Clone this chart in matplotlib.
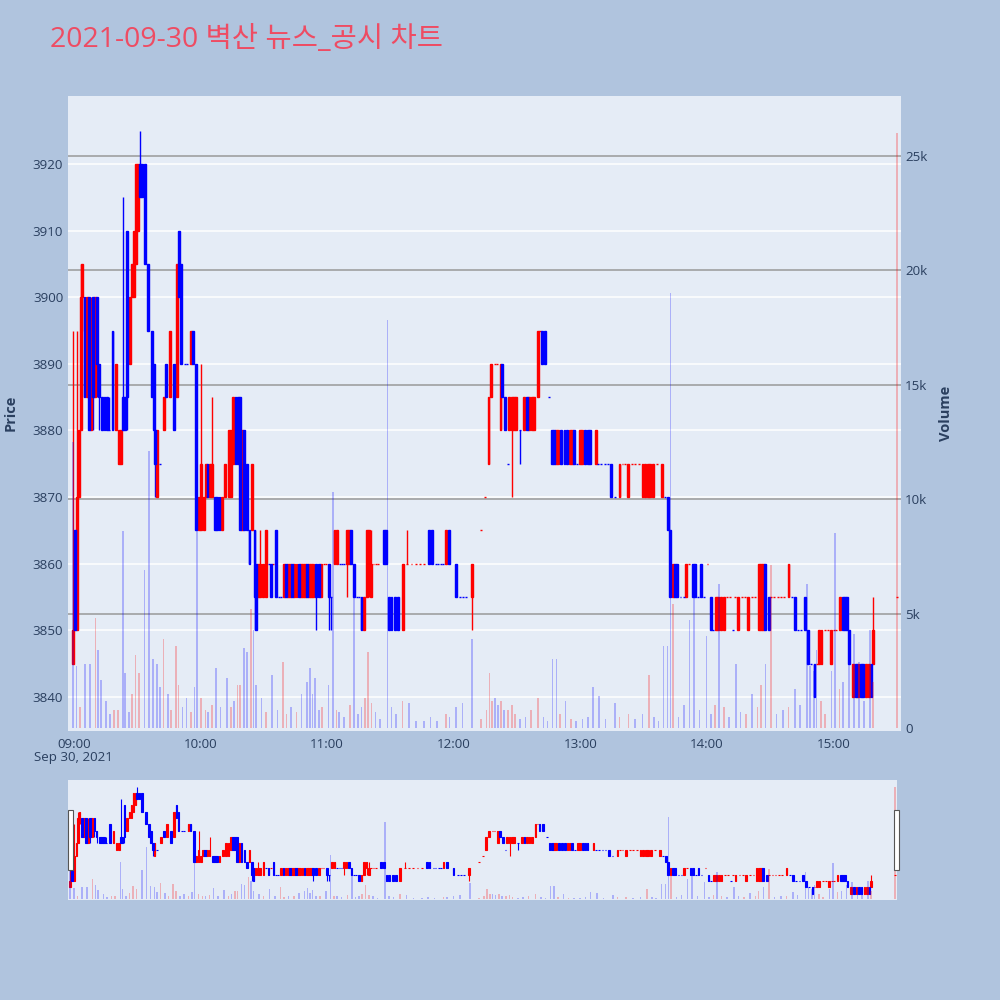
import matplotlib.pyplot as plt
import numpy as np
from matplotlib.patches import Rectangle
from matplotlib.transforms import blended_transform_factory

# candles: minutes after 09:00, open / high / low / close
candle_min = [
    -0.5, 0.5, 1.5, 2.5, 3.2, 4.0, 5.0, 6.0, 7.0, 8.0,
    9.0, 10.0, 11.0, 12.0, 13.5, 14.5, 15.5, 16.5, 18.3, 20.0,
    21.5, 22.5, 23.4, 24.2, 25.2, 26.5, 27.6, 28.5, 29.5, 30.5,
    31.3, 32.3, 33.5, 35.3, 36.8, 37.8, 38.6, 39.5, 40.8, 42.5,
    43.8, 45.5, 47.3, 48.8, 49.8, 50.8, 52.5, 53.5, 55.5, 56.5,
    58.0, 59.2, 60.3, 61.5, 62.5, 63.3, 64.3, 65.5, 67.0, 68.0,
    69.0, 70.2, 71.8, 73.3, 74.5, 75.6, 76.6, 77.6, 78.6, 79.6,
    80.6, 82.0, 83.2, 84.4, 85.6, 86.4, 87.3, 88.4, 89.5, 91.0,
    92.3, 93.5, 94.5, 95.8, 97.0, 98.0, 99.5, 100.5, 101.5, 102.5,
    103.5, 104.5, 105.5, 106.5, 107.5, 108.5, 109.5, 110.5, 111.5, 112.5,
    113.5, 114.6, 116.0, 117.2, 118.5, 119.5, 121.0, 122.0, 123.5, 124.7,
    126.0, 127.0, 128.0, 129.3, 130.3, 131.5, 132.7, 134.0, 135.0, 136.3,
    137.5, 138.8, 139.9, 140.9, 142.0, 143.2, 144.3, 146.8, 148.0, 149.3,
    150.5, 152.3, 153.8, 155.8, 158.0, 160.0, 162.0, 164.0, 166.0, 168.5,
    169.7, 171.5, 172.5, 174.0, 175.0, 176.3, 177.8, 181.0, 183.0, 184.5,
    186.0, 188.5, 193.0, 195.0, 196.5, 197.8, 199.5, 200.5, 202.2, 203.0,
    204.5, 205.6, 206.3, 207.6, 208.6, 209.6, 211.5, 213.3, 214.6, 215.8,
    217.0, 218.2, 219.8, 220.8, 221.8, 223.3, 225.3, 226.5, 227.6, 228.6,
    229.6, 231.0, 232.5, 233.7, 235.0, 236.0, 237.2, 238.5, 240.0, 241.0,
    242.3, 243.5, 244.5, 247.3, 248.5, 250.0, 251.5, 253.0, 254.5, 256.3,
    258.6, 260.0, 261.0, 262.8, 264.5, 266.0, 268.0, 269.5, 270.8, 272.0,
    273.2, 274.5, 276.5, 278.8, 280.2, 281.5, 282.6, 283.8, 284.8, 286.0,
    287.5, 289.0, 290.3, 291.5, 293.3, 294.5, 295.8, 297.0, 298.5, 300.3,
    301.8, 303.0, 304.3, 305.3, 306.8, 307.9, 309.5, 311.0, 312.4, 313.4,
    314.6, 316.5, 318.0, 319.6, 321.5, 323.0, 324.5, 325.6, 326.6, 327.6,
    329.3, 330.5, 332.0, 333.5, 335.0, 336.5, 338.7, 340.2, 341.8, 343.3,
    344.8, 346.6, 347.8, 349.3, 351.0, 352.0, 353.0, 354.3, 356.0, 357.3,
    358.8, 360.3, 361.3, 362.9, 364.4, 365.4, 366.4, 367.5, 369.3, 370.5,
    371.8, 373.0, 374.2, 375.6, 376.8, 378.0, 378.8, 390.0,
]
candle_open = [
    3845, 3865, 3850, 3870, 3880, 3900, 3900, 3885, 3900, 3880,
    3900, 3885, 3900, 3890, 3885, 3885, 3885, 3880, 3895, 3880,
    3875, 3875, 3885, 3885, 3910, 3890, 3900, 3900, 3905, 3910,
    3920, 3920, 3920, 3905, 3895, 3890, 3880, 3870, 3875, 3880,
    3890, 3885, 3890, 3885, 3910, 3905, 3890, 3890, 3890, 3895,
    3890, 3865, 3865, 3865, 3870, 3875, 3870, 3870, 3870, 3870,
    3870, 3865, 3870, 3870, 3870, 3875, 3885, 3885, 3885, 3865,
    3880, 3875, 3865, 3865, 3865, 3860, 3855, 3855, 3855, 3855,
    3860, 3860, 3860, 3865, 3855, 3855, 3855, 3860, 3855, 3855,
    3860, 3855, 3855, 3860, 3855, 3855, 3855, 3860, 3855, 3855,
    3855, 3860, 3860, 3855, 3860, 3860, 3860, 3855, 3860, 3860,
    3860, 3860, 3860, 3860, 3860, 3865, 3860, 3855, 3855, 3855,
    3850, 3855, 3860, 3855, 3860, 3860, 3860, 3865, 3865, 3855,
    3855, 3855, 3855, 3850, 3860, 3860, 3860, 3860, 3860, 3865,
    3865, 3860, 3860, 3860, 3860, 3860, 3865, 3860, 3855, 3855,
    3855, 3855, 3865, 3870, 3875, 3885, 3890, 3890, 3880, 3890,
    3885, 3875, 3880, 3880, 3880, 3880, 3880, 3880, 3885, 3880,
    3880, 3880, 3885, 3895, 3895, 3895, 3885, 3880, 3880, 3875,
    3875, 3880, 3880, 3880, 3875, 3875, 3880, 3875, 3875, 3875,
    3880, 3880, 3880, 3875, 3875, 3875, 3875, 3875, 3875, 3870,
    3870, 3875, 3875, 3870, 3875, 3875, 3875, 3870, 3870, 3870,
    3870, 3870, 3875, 3870, 3870, 3870, 3865, 3855, 3860, 3860,
    3855, 3855, 3855, 3860, 3860, 3860, 3855, 3860, 3855, 3860,
    3855, 3850, 3850, 3850, 3850, 3850, 3855, 3855, 3850, 3855,
    3850, 3855, 3855, 3850, 3855, 3855, 3850, 3850, 3850, 3860,
    3855, 3855, 3855, 3855, 3855, 3855, 3855, 3855, 3855, 3850,
    3850, 3855, 3850, 3845, 3845, 3845, 3845, 3845, 3850, 3850,
    3845, 3850, 3850, 3850, 3855, 3855, 3855, 3850, 3840, 3845,
    3840, 3845, 3845, 3840, 3840, 3845, 3845, 3855,
]
candle_high = [
    3895, 3865, 3895, 3880, 3905, 3905, 3900, 3900, 3900, 3900,
    3900, 3900, 3900, 3890, 3885, 3885, 3885, 3885, 3895, 3890,
    3880, 3880, 3915, 3885, 3910, 3900, 3905, 3910, 3920, 3920,
    3925, 3920, 3920, 3905, 3895, 3890, 3880, 3880, 3875, 3885,
    3890, 3895, 3890, 3905, 3910, 3905, 3890, 3890, 3895, 3895,
    3890, 3870, 3890, 3870, 3875, 3875, 3875, 3885, 3870, 3870,
    3870, 3870, 3875, 3880, 3880, 3885, 3885, 3885, 3885, 3880,
    3880, 3875, 3865, 3875, 3865, 3860, 3860, 3865, 3860, 3865,
    3860, 3860, 3860, 3865, 3855, 3855, 3860, 3860, 3860, 3860,
    3860, 3860, 3860, 3860, 3860, 3860, 3860, 3860, 3860, 3860,
    3860, 3860, 3860, 3860, 3860, 3860, 3860, 3855, 3865, 3865,
    3860, 3860, 3860, 3865, 3865, 3865, 3860, 3855, 3855, 3855,
    3855, 3865, 3865, 3865, 3860, 3860, 3860, 3865, 3865, 3855,
    3855, 3855, 3855, 3860, 3865, 3860, 3860, 3860, 3860, 3865,
    3865, 3860, 3860, 3860, 3860, 3865, 3865, 3860, 3855, 3855,
    3855, 3860, 3865, 3870, 3885, 3890, 3890, 3890, 3890, 3890,
    3885, 3875, 3885, 3885, 3885, 3885, 3880, 3885, 3885, 3885,
    3885, 3885, 3895, 3895, 3895, 3895, 3885, 3880, 3880, 3880,
    3880, 3880, 3880, 3880, 3880, 3880, 3880, 3875, 3880, 3880,
    3880, 3880, 3880, 3880, 3875, 3875, 3875, 3875, 3875, 3870,
    3875, 3875, 3875, 3875, 3875, 3875, 3875, 3875, 3875, 3875,
    3875, 3875, 3875, 3875, 3870, 3870, 3865, 3860, 3860, 3860,
    3855, 3855, 3860, 3860, 3860, 3860, 3855, 3860, 3855, 3860,
    3855, 3850, 3855, 3855, 3855, 3855, 3855, 3855, 3850, 3855,
    3855, 3855, 3855, 3855, 3855, 3855, 3860, 3860, 3860, 3860,
    3855, 3855, 3855, 3855, 3855, 3855, 3860, 3855, 3855, 3850,
    3850, 3855, 3850, 3845, 3845, 3845, 3850, 3850, 3850, 3850,
    3850, 3850, 3850, 3855, 3855, 3855, 3855, 3850, 3845, 3845,
    3845, 3845, 3845, 3845, 3845, 3845, 3855, 3855,
]
candle_low = [
    3845, 3850, 3850, 3870, 3880, 3895, 3885, 3885, 3880, 3880,
    3880, 3885, 3885, 3880, 3880, 3880, 3880, 3880, 3880, 3880,
    3875, 3875, 3880, 3880, 3880, 3890, 3900, 3900, 3905, 3910,
    3915, 3915, 3905, 3895, 3885, 3880, 3870, 3870, 3875, 3880,
    3885, 3885, 3880, 3885, 3900, 3890, 3890, 3890, 3890, 3890,
    3865, 3865, 3865, 3865, 3870, 3870, 3870, 3870, 3865, 3865,
    3865, 3865, 3870, 3870, 3870, 3875, 3875, 3875, 3865, 3865,
    3865, 3865, 3860, 3865, 3850, 3850, 3855, 3855, 3855, 3855,
    3860, 3855, 3860, 3855, 3855, 3855, 3855, 3855, 3855, 3855,
    3855, 3855, 3855, 3855, 3855, 3855, 3855, 3855, 3855, 3855,
    3855, 3850, 3855, 3855, 3860, 3860, 3850, 3850, 3860, 3860,
    3860, 3860, 3860, 3855, 3860, 3860, 3855, 3855, 3855, 3850,
    3850, 3855, 3855, 3855, 3860, 3860, 3860, 3860, 3860, 3850,
    3850, 3850, 3850, 3850, 3860, 3860, 3860, 3860, 3860, 3860,
    3860, 3860, 3860, 3860, 3860, 3860, 3860, 3855, 3855, 3855,
    3855, 3850, 3865, 3870, 3875, 3885, 3890, 3890, 3880, 3885,
    3880, 3875, 3880, 3870, 3880, 3880, 3875, 3880, 3880, 3880,
    3880, 3880, 3885, 3895, 3890, 3890, 3885, 3875, 3875, 3875,
    3875, 3875, 3875, 3875, 3875, 3875, 3875, 3875, 3875, 3875,
    3875, 3875, 3875, 3875, 3875, 3875, 3875, 3875, 3870, 3870,
    3870, 3875, 3875, 3870, 3875, 3875, 3875, 3870, 3870, 3870,
    3870, 3870, 3875, 3870, 3870, 3865, 3855, 3855, 3855, 3855,
    3855, 3855, 3855, 3860, 3855, 3855, 3855, 3855, 3855, 3860,
    3850, 3850, 3850, 3850, 3850, 3850, 3855, 3855, 3850, 3855,
    3850, 3855, 3855, 3850, 3855, 3855, 3850, 3850, 3850, 3850,
    3850, 3855, 3855, 3855, 3855, 3855, 3855, 3855, 3850, 3850,
    3850, 3850, 3845, 3845, 3840, 3845, 3845, 3845, 3850, 3850,
    3845, 3850, 3850, 3850, 3850, 3850, 3850, 3845, 3840, 3840,
    3840, 3840, 3840, 3840, 3840, 3840, 3845, 3855,
]
candle_close = [
    3850, 3850, 3870, 3880, 3900, 3905, 3885, 3900, 3880, 3895,
    3885, 3900, 3890, 3885, 3880, 3880, 3880, 3880, 3880, 3890,
    3880, 3880, 3880, 3880, 3885, 3900, 3905, 3910, 3920, 3920,
    3915, 3915, 3905, 3895, 3885, 3880, 3875, 3880, 3875, 3885,
    3885, 3895, 3880, 3905, 3900, 3890, 3890, 3890, 3895, 3890,
    3865, 3870, 3875, 3870, 3875, 3870, 3875, 3875, 3865, 3865,
    3865, 3870, 3875, 3880, 3880, 3885, 3875, 3875, 3865, 3880,
    3865, 3865, 3860, 3875, 3855, 3850, 3860, 3860, 3860, 3865,
    3860, 3855, 3860, 3855, 3855, 3855, 3860, 3855, 3860, 3860,
    3855, 3860, 3860, 3855, 3860, 3860, 3860, 3855, 3860, 3860,
    3860, 3855, 3855, 3860, 3860, 3860, 3855, 3855, 3865, 3865,
    3860, 3860, 3860, 3865, 3865, 3860, 3855, 3855, 3855, 3850,
    3855, 3865, 3865, 3860, 3860, 3860, 3860, 3860, 3860, 3850,
    3850, 3850, 3850, 3860, 3860, 3860, 3860, 3860, 3860, 3860,
    3860, 3860, 3860, 3860, 3860, 3865, 3860, 3855, 3855, 3855,
    3855, 3860, 3865, 3870, 3885, 3890, 3890, 3890, 3890, 3885,
    3880, 3875, 3885, 3885, 3885, 3885, 3880, 3885, 3880, 3885,
    3885, 3885, 3895, 3895, 3890, 3890, 3885, 3875, 3875, 3880,
    3880, 3875, 3875, 3875, 3880, 3880, 3875, 3875, 3880, 3880,
    3875, 3875, 3875, 3880, 3875, 3875, 3875, 3875, 3870, 3870,
    3875, 3875, 3875, 3875, 3875, 3875, 3875, 3875, 3875, 3875,
    3875, 3875, 3875, 3875, 3870, 3865, 3855, 3860, 3855, 3855,
    3855, 3855, 3860, 3860, 3855, 3855, 3855, 3855, 3855, 3860,
    3850, 3850, 3855, 3855, 3855, 3855, 3855, 3855, 3850, 3855,
    3855, 3855, 3855, 3855, 3855, 3855, 3860, 3860, 3860, 3850,
    3850, 3855, 3855, 3855, 3855, 3855, 3860, 3855, 3850, 3850,
    3850, 3850, 3845, 3845, 3840, 3845, 3850, 3850, 3850, 3850,
    3850, 3850, 3850, 3855, 3850, 3850, 3850, 3845, 3845, 3840,
    3845, 3840, 3840, 3845, 3845, 3840, 3850, 3855,
]

# volume bars: minutes after 09:00, size, 1 = up (red) / 0 = down (blue)
vol_min = [
    -0.5, 1.3, 3.0, 5.1, 7.6, 10.2, 11.4, 12.7, 15.3, 17.0,
    19.0, 20.8, 23.4, 24.2, 26.0, 27.5, 29.2, 31.0, 33.5, 35.6,
    37.6, 39.4, 40.7, 42.4, 44.5, 46.0, 48.3, 49.6, 51.5, 53.4,
    55.5, 57.2, 58.5, 60.3, 62.3, 63.5, 65.5, 67.4, 69.5, 72.4,
    74.5, 76.0, 77.5, 78.8, 80.6, 82.1, 83.9, 85.1, 86.4, 88.9,
    91.0, 94.0, 96.5, 99.1, 100.8, 102.9, 105.5, 107.9, 110.5, 111.8,
    113.1, 114.3, 116.0, 117.7, 120.7, 122.7, 124.5, 125.8, 128.0, 130.9,
    132.9, 134.5, 136.3, 137.8, 139.3, 141.0, 143.0, 145.0, 148.7, 150.5,
    152.5, 155.8, 158.8, 162.0, 166.0, 169.0, 172.0, 176.3, 178.0, 181.0,
    184.2, 188.8, 193.0, 195.5, 196.9, 198.2, 199.5, 201.0, 202.5, 204.0,
    205.8, 207.6, 209.0, 211.5, 214.0, 216.5, 219.8, 222.5, 224.5, 226.9,
    228.7, 230.5, 233.0, 235.5, 238.0, 241.0, 243.5, 246.0, 249.0, 252.0,
    256.6, 258.6, 262.8, 266.0, 269.5, 272.6, 275.0, 277.0, 279.5, 281.3,
    282.8, 284.1, 286.5, 289.0, 291.7, 294.0, 296.5, 299.8, 302.0, 304.0,
    305.7, 308.0, 310.5, 313.8, 316.0, 318.5, 321.4, 324.0, 325.5, 327.8,
    330.3, 333.0, 336.0, 338.7, 341.8, 344.0, 347.6, 349.0, 350.7, 351.9,
    354.0, 356.0, 359.0, 360.8, 362.9, 364.6, 367.2, 369.7, 372.2, 374.5,
    377.3, 378.8, 390.0,
]
vol_size = [
    12500, 2700, 900, 2800, 2800, 4800, 3400, 2100, 1200, 600,
    800, 800, 8600, 2400, 700, 1500, 3200, 2400, 6900, 12100,
    3000, 2800, 1800, 3900, 1500, 800, 3600, 1900, 900, 1300,
    700, 1800, 9500, 1300, 800, 700, 1000, 2600, 900, 2200,
    900, 1200, 1900, 1900, 3500, 3300, 5200, 4300, 1900, 1300,
    700, 2300, 800, 2900, 600, 900, 700, 1500, 2000, 2600,
    1500, 2200, 800, 900, 1900, 10300, 800, 700, 500, 1000,
    5700, 600, 900, 1300, 3300, 1100, 700, 400, 17800, 900,
    600, 1200, 1100, 300, 300, 500, 300, 600, 500, 900,
    1100, 3900, 400, 800, 2400, 1200, 1300, 1000, 1200, 800,
    800, 1000, 600, 400, 500, 800, 1300, 500, 300, 3000,
    3000, 600, 1200, 400, 300, 400, 500, 1800, 1400, 400,
    1100, 500, 600, 400, 600, 2300, 500, 300, 3600, 3600,
    19000, 5400, 500, 1000, 4700, 6800, 800, 4000, 600, 1000,
    6300, 900, 500, 2800, 700, 600, 1500, 900, 1900, 2800,
    7100, 600, 800, 900, 1700, 1000, 6300, 2700, 2500, 3400,
    1200, 600, 2500, 8500, 1700, 2000, 3300, 4100, 2900, 1200,
    4300, 2000, 26000,
]
vol_up = [
    0, 0, 1, 0, 0, 1, 0, 0, 0, 0,
    1, 1, 0, 0, 0, 1, 1, 1, 0, 0,
    0, 0, 0, 1, 0, 1, 1, 1, 0, 0,
    1, 0, 0, 1, 1, 0, 1, 0, 0, 0,
    1, 0, 1, 1, 0, 0, 1, 0, 0, 0,
    1, 0, 0, 1, 1, 0, 1, 0, 0, 0,
    0, 0, 0, 1, 0, 0, 1, 0, 0, 1,
    0, 0, 0, 1, 1, 1, 0, 0, 0, 0,
    0, 1, 0, 0, 0, 0, 0, 1, 0, 0,
    0, 0, 1, 1, 1, 1, 0, 0, 1, 0,
    1, 1, 1, 0, 0, 1, 1, 0, 0, 0,
    0, 1, 0, 1, 0, 0, 0, 0, 0, 0,
    0, 1, 1, 0, 0, 1, 0, 0, 0, 0,
    0, 1, 0, 0, 0, 0, 0, 0, 0, 1,
    0, 1, 0, 0, 0, 1, 0, 1, 1, 0,
    1, 0, 0, 1, 0, 0, 0, 0, 0, 0,
    1, 1, 0, 0, 1, 0, 0, 0, 0, 0,
    0, 1, 1,
]

tick_min = [0, 60, 120, 180, 240, 300, 360]
tick_labels = ['09:00', '10:00', '11:00', '12:00', '13:00', '14:00', '15:00']
price_ticks = [3840, 3850, 3860, 3870, 3880, 3890, 3900, 3910, 3920]
vol_ticks = [0, 5000, 10000, 15000, 20000, 25000]
vol_labels = ['0', '5k', '10k', '15k', '20k', '25k']

RED = '#ff0000'
BLUE = '#0000ff'
TXT = '#2a3f5f'
PLOT_BG = '#e5ecf6'

plt.rcParams['font.family'] = ['Open Sans', 'Noto Sans CJK KR', 'DejaVu Sans']

t = np.array(candle_min)
o = np.array(candle_open, dtype=float)
h = np.array(candle_high, dtype=float)
lo = np.array(candle_low, dtype=float)
c = np.array(candle_close, dtype=float)

# direction like plotly: equal open/close falls back to the previous close
up = []
for i in range(len(c)):
    if c[i] > o[i]:
        up.append(True)
    elif c[i] < o[i]:
        up.append(False)
    elif i == 0 or c[i] > c[i - 1]:
        up.append(True)
    elif c[i] < c[i - 1]:
        up.append(False)
    else:
        up.append(up[-1])
up = np.array(up)

vt = np.array(vol_min)
vs = np.array(vol_size)
vu = np.array(vol_up) == 1


def draw(ax, axv, width, lw, vwidth):
    for color, m in [(RED, up), (BLUE, ~up)]:
        ax.vlines(t[m], lo[m], h[m], color=color, lw=lw, zorder=2)
        ax.bar(t[m], c[m] - o[m], bottom=o[m], width=width, color=color,
               edgecolor=color, linewidth=lw, zorder=3)
    axv.bar(vt[vu], vs[vu], width=vwidth, color=(1, 0, 0, 0.25), linewidth=0)
    axv.bar(vt[~vu], vs[~vu], width=vwidth, color=(0, 0, 1, 0.25), linewidth=0)


fig = plt.figure(figsize=(10, 10), dpi=100)
fig.patch.set_facecolor('#b0c4de')

ax = fig.add_axes([0.068, 0.269, 0.833, 0.635])
ax.set_facecolor(PLOT_BG)
ax2 = ax.twinx()
draw(ax, ax2, 0.9, 1.0, 0.8)

ax.set_xlim(-2.8, 392)
ax.set_ylim(3834.9, 3930.2)
ax2.set_ylim(-130, 27600)

ax.set_yticks(price_ticks)
ax.set_axisbelow(True)
ax.grid(axis='y', color='white', lw=1.1)
tr = blended_transform_factory(ax.transAxes, ax2.transData)
for v in vol_ticks[1:]:
    ax.plot([0, 1], [v, v], transform=tr, color='#999999', lw=1.1, zorder=1)

ax.set_xticks(tick_min)
ax.set_xticklabels(tick_labels)
ax.tick_params(axis='both', length=0, colors=TXT, labelsize=9.6)
ax.tick_params(axis='x', pad=5)
ax2.set_yticks(vol_ticks)
ax2.set_yticklabels(vol_labels)
ax2.tick_params(axis='y', length=0, colors=TXT, labelsize=9.6, pad=3)
for a in (ax, ax2):
    for s in a.spines.values():
        s.set_visible(False)

fig.text(0.073, 0.242, 'Sep 30, 2021', ha='center', va='center', color=TXT, fontsize=9.6)
fig.text(0.011, 0.587, 'Price', rotation=90, ha='center', va='center',
         color=TXT, fontsize=10.5, fontweight='bold')
fig.text(0.946, 0.587, 'Volume', rotation=90, ha='center', va='center',
         color=TXT, fontsize=10.5, fontweight='bold')
fig.text(0.05, 0.96, '2021-09-30 벽산 뉴스_공시 차트', ha='left', va='center',
         color='#ee4c63', fontsize=20.5)

# range slider
axs = fig.add_axes([0.068, 0.100, 0.829, 0.120])
axs.set_facecolor(PLOT_BG)
axs2 = axs.twinx()
draw(axs, axs2, 0.8, 0.8, 0.7)
axs.set_xlim(-1.5, 391)
axs.set_ylim(3834.9, 3930.2)
axs2.set_ylim(-130, 27600)
for a in (axs, axs2):
    a.set_xticks([])
    a.set_yticks([])
    for s in a.spines.values():
        s.set_visible(False)

for x0 in (0.068, 0.894):
    fig.patches.append(Rectangle((x0, 0.130), 0.005, 0.060, transform=fig.transFigure,
                                 facecolor='white', edgecolor='#555555', lw=0.8))

fig.savefig('out.png', dpi=100)
